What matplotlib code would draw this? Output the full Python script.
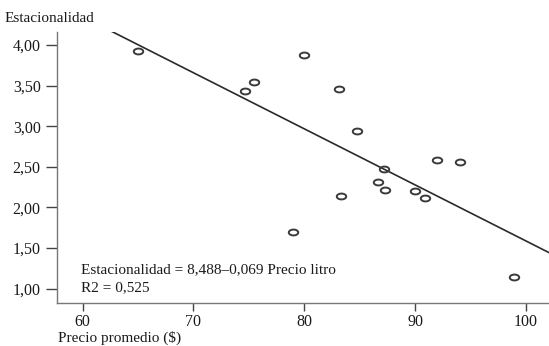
import numpy as np
import matplotlib
matplotlib.use("Agg")
import matplotlib.pyplot as plt
from matplotlib.path import Path

plt.rcParams['font.family'] = ['Liberation Serif', 'DejaVu Serif']

precio = [65.0, 74.66, 75.5, 79.98, 83.17, 84.71, 87.18, 86.61, 87.24, 83.35,
          89.96, 90.86, 92.01, 94.03, 78.98, 98.95]
estac = [3.93, 3.43, 3.54, 3.88, 3.455, 2.946, 2.475, 2.315, 2.213, 2.146,
         2.20, 2.12, 2.585, 2.565, 1.70, 1.14]
intercept = 8.488
slope = -0.069
x_ticks = [60, 70, 80, 90, 100]
y_ticks = [1.00, 1.50, 2.00, 2.50, 3.00, 3.50, 4.00]

fig = plt.figure(figsize=(5.49, 3.46), dpi=100)
ax = fig.add_axes([57.3/549, 1-302.7/346, (549-57.3)/549, (302.7-32)/346])

xlim = (57.71, 102.08)
ylim = (0.828, 4.16)

xl = np.array(xlim)
ax.plot(xl, intercept + slope*xl, color='#2a2a2a', lw=1.2, zorder=2)

t = np.linspace(0, 2*np.pi, 40)
ell = Path(np.column_stack([np.cos(t), 0.62*np.sin(t)]), closed=True)
ax.plot(precio, estac, linestyle='none', marker=ell, markersize=6.8,
        markerfacecolor='none', markeredgecolor='#3a3a3a', markeredgewidth=1.4, zorder=3)

ax.set_xlim(*xlim)
ax.set_ylim(*ylim)
ax.set_xticks(x_ticks)
ax.set_xticklabels([str(v) for v in x_ticks])
ax.set_yticks(y_ticks)
ax.set_yticklabels([f"{v:.2f}".replace('.', ',') for v in y_ticks])

for s in ['top', 'right']:
    ax.spines[s].set_visible(False)
for s in ['left', 'bottom']:
    ax.spines[s].set_color('#777777')
    ax.spines[s].set_linewidth(1.0)
ax.tick_params(axis='y', length=8, width=1.0, color='#444444', labelsize=11.5, pad=4, labelcolor='#1a1a1a')
ax.tick_params(axis='x', length=6, width=1.0, color='#444444', labelsize=11.5, pad=2, labelcolor='#1a1a1a')

ax.text(0.048, 0.121, "Estacionalidad = 8,488\u20130,069 Precio litro", transform=ax.transAxes,
        fontsize=11, va='center', ha='left', color='#1a1a1a')
ax.text(0.048, 0.054, "R2 = 0,525", transform=ax.transAxes,
        fontsize=11, va='center', ha='left', color='#1a1a1a')

fig.text(5/549, 1-18/346, "Estacionalidad", fontsize=11, va='center', ha='left', color='#1a1a1a')
fig.text(58/549, 1-338/346, "Precio promedio ($)", fontsize=11, va='center', ha='left', color='#1a1a1a')

fig.savefig("out.png", dpi=100)
